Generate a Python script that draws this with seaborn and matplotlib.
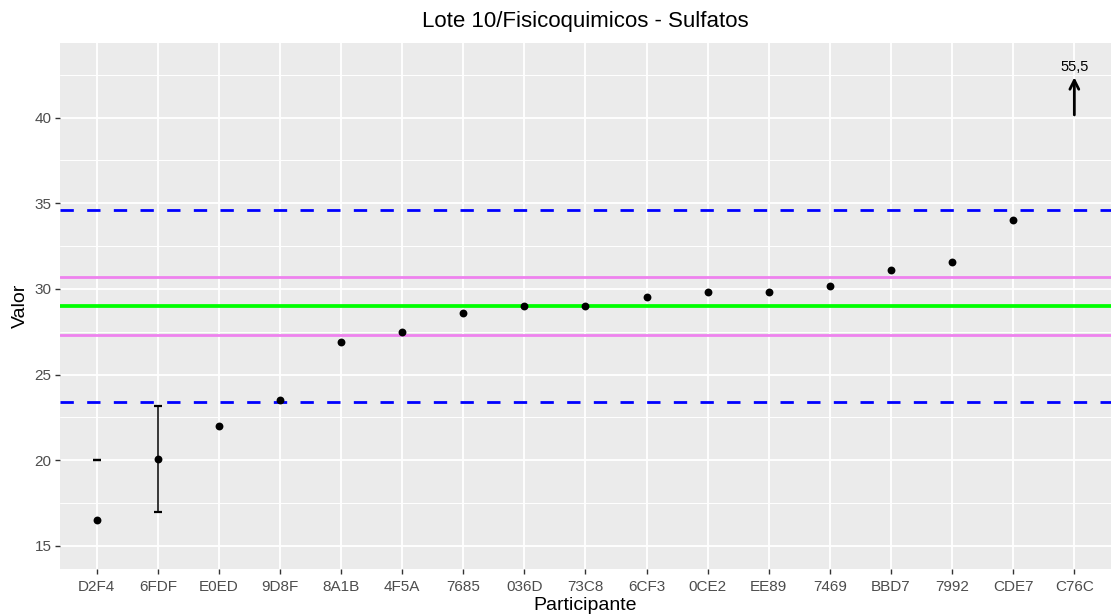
import numpy as np
import pandas as pd
import matplotlib
matplotlib.use("Agg")
import matplotlib.pyplot as plt
from matplotlib.ticker import MultipleLocator
import seaborn as sns

# Participants, ordered by reported value
participantes = ["D2F4", "6FDF", "E0ED", "9D8F", "8A1B", "4F5A", "7685", "036D",
                 "73C8", "6CF3", "0CE2", "EE89", "7469", "BBD7", "7992", "CDE7", "C76C"]
valores = [16.5, 20.05, 22.0, 23.5, 26.9, 27.5, 28.6, 29.0,
           29.0, 29.5, 29.8, 29.8, 30.15, 31.1, 31.55, 34.0, 55.5]
# Reported uncertainty interval (lower, upper); NaN where none was given
inc_inf = [20.0, 17.0] + [np.nan] * 15
inc_sup = [20.0, 23.15] + [np.nan] * 15

# Assigned value and acceptance limits
valor_asignado = 29.0
limites_internos = [27.3, 30.7]
limites_externos = [23.4, 34.6]

y_min, y_max = 13.65, 44.35

df = pd.DataFrame({"Participante": participantes, "Valor": valores,
                   "inf": inc_inf, "sup": inc_sup})

sns.set_theme(style="darkgrid", rc={
    "axes.facecolor": "#EBEBEB",
    "grid.color": "white",
    "axes.edgecolor": "#EBEBEB",
    "xtick.color": "#333333",
    "ytick.color": "#333333",
})
plt.rcParams["font.family"] = ["Liberation Sans", "DejaVu Sans"]

fig = plt.figure(figsize=(11.11, 6.14), dpi=100)
ax = fig.add_axes([60 / 1111, 1 - 569 / 614, 1 - 60 / 1111, (569 - 43) / 614])

# Reference lines
ax.axhline(valor_asignado, color="#00FF00", lw=2.7, zorder=2)
for v in limites_internos:
    ax.axhline(v, color="#EE82EE", lw=2.0, zorder=2)
for v in limites_externos:
    ax.axhline(v, color="#0000FF", lw=2.0, linestyle=(0, (4.8, 4.8)), zorder=2)

# Points
sns.scatterplot(data=df, x="Participante", y="Valor", color="black", s=32,
                edgecolor="black", linewidth=0, ax=ax, zorder=4)

# Uncertainty bars
pos = np.arange(len(participantes))
mask = ~df["inf"].isna().to_numpy()
mid = (df["inf"] + df["sup"]) / 2
ax.errorbar(pos[mask], mid[mask],
            yerr=[(mid - df["inf"])[mask], (df["sup"] - mid)[mask]],
            fmt="none", ecolor="black", elinewidth=1.1, capsize=3, capthick=1.6,
            zorder=3)

# Values beyond the upper limit: arrow and label
for i, (p, v) in enumerate(zip(participantes, valores)):
    if v > y_max:
        ax.annotate("", xy=(i, 42.35), xytext=(i, 40.15),
                    arrowprops=dict(arrowstyle="->", lw=2.0, color="black",
                                    mutation_scale=16, shrinkA=0, shrinkB=0),
                    zorder=5)
        ax.text(i, 42.95, f"{v:.1f}".replace(".", ","), ha="center", va="center",
                fontsize=10.5, color="black")

ax.set_xlim(-0.6, len(participantes) - 0.4)
ax.set_ylim(y_min, y_max)
ax.yaxis.set_major_locator(MultipleLocator(5))
ax.yaxis.set_minor_locator(MultipleLocator(2.5))
ax.grid(which="major", color="white", lw=1.3)
ax.grid(which="minor", axis="y", color="white", lw=0.7)
ax.tick_params(axis="both", which="major", length=3.5, width=1.0,
               labelsize=11, labelcolor="#4D4D4D", bottom=True, left=True)
ax.tick_params(axis="x", pad=4.5)
ax.tick_params(axis="y", pad=2.5)
ax.tick_params(which="minor", length=0)

ax.set_xlabel("Participante", fontsize=14, color="black", labelpad=2)
ax.set_ylabel("Valor", fontsize=14, color="black", labelpad=4)
fig.text(585 / 1111, 1 - 21 / 614, "Lote 10/Fisicoquimicos - Sulfatos",
         ha="center", va="center", fontsize=16, color="black")

for s in ax.spines.values():
    s.set_visible(False)

fig.savefig("out.png", dpi=100)
